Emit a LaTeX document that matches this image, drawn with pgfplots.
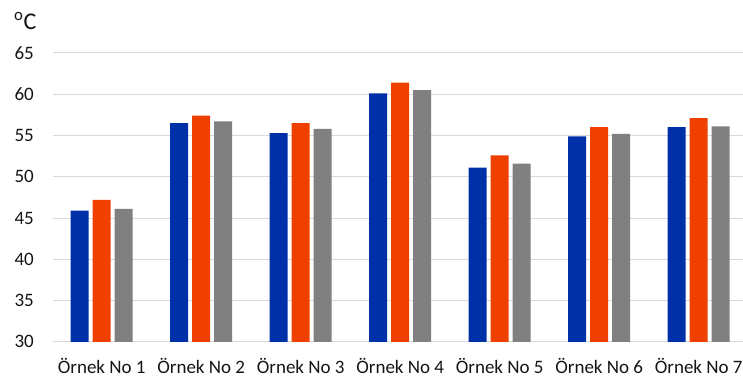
\documentclass[border=0pt]{standalone}
\usepackage{pgfplots}
\pgfplotsset{compat=1.18}
\usepackage{fontspec}
\setmainfont{Carlito}
\definecolor{cblue}{HTML}{0030A8}
\definecolor{corange}{HTML}{F04000}
\definecolor{cgray}{HTML}{808080}
\definecolor{cgrid}{HTML}{D9D9D9}
\definecolor{ctext}{HTML}{141414}
\begin{document}
\begin{tikzpicture}
\begin{axis}[
  scale only axis,
  width=690pt, height=289pt,
  xmin=-0.49, xmax=6.44,
  ymin=30, ymax=65,
  ytick={30,35,...,65},
  xtick={0,1,2,3,4,5,6},
  xticklabels={Örnek No 1,Örnek No 2,Örnek No 3,Örnek No 4,Örnek No 5,Örnek No 6,Örnek No 7},
  axis line style={draw=none},
  major tick length=0pt,
  ymajorgrids,
  grid style={cgrid, line width=1pt},
  ybar=4pt, bar width=18pt,
  clip=false,
  ticklabel style={font=\fontsize{19}{22}\selectfont, text=ctext},
  yticklabel style={anchor=east, inner sep=0pt, xshift=-19pt},
  xticklabel style={anchor=base, inner sep=0pt, yshift=-32pt},
  /pgf/number format/assume math mode=true,
]
\addplot[fill=cblue, draw=none] coordinates {(0,45.9) (1,56.5) (2,55.3) (3,60.1) (4,51.1) (5,54.9) (6,56.0)};
\addplot[fill=corange, draw=none] coordinates {(0,47.2) (1,57.4) (2,56.5) (3,61.4) (4,52.6) (5,56.0) (6,57.1)};
\addplot[fill=cgray, draw=none] coordinates {(0,46.1) (1,56.7) (2,55.8) (3,60.5) (4,51.6) (5,55.2) (6,56.1)};
\path (axis description cs:-0.0768,-0.128) rectangle (axis description cs:1,1.1834);
\node[anchor=base west, inner sep=0pt, text=ctext, font=\fontsize{24}{28}\selectfont] at (axis description cs:-0.0565,1.0800) {\textsuperscript{o}C};
\end{axis}
\end{tikzpicture}
\end{document}
